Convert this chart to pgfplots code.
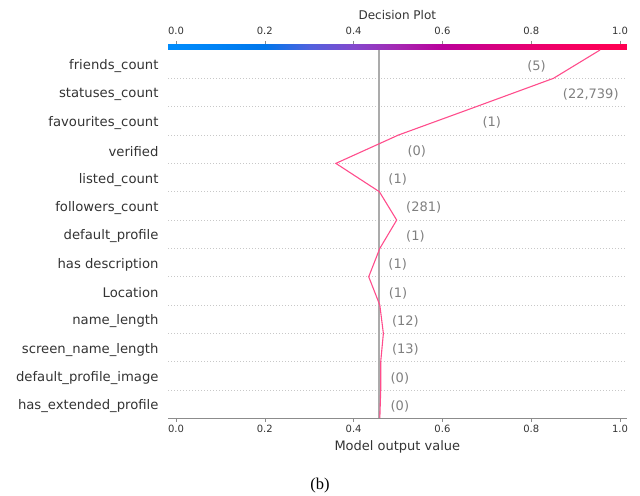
\documentclass[border=0pt]{standalone}
\usepackage{fontspec}
\setmainfont{DejaVu Sans}
\newfontfamily\captionserif{Liberation Serif}
\usepackage{pgfplots}
\usepackage{pgfplotstable}
\pgfplotsset{compat=1.18}

\definecolor{textdark}{HTML}{333333}
\definecolor{valgray}{HTML}{7F7F7F}
\definecolor{gridgray}{HTML}{C8C8C8}
\definecolor{basegray}{HTML}{ABABAB}
\definecolor{axisgray}{HTML}{8C8C8C}
\definecolor{pathpink}{HTML}{FF4D8C}

% cumulative model output at each feature boundary (row 0 = base)
\pgfplotstableread{
row out
0   0.459
1   0.461
2   0.461
3   0.467
4   0.459
5   0.434
6   0.459
7   0.497
8   0.458
9   0.360
10  0.501
11  0.676
12  0.850
13  0.955
}\decisionpath

% stops of the colour scale, drawn as a two-row strip
\pgfplotstableread{
x      y  c
-0.018 0  -0.018
0      0  0
0.1    0  0.1
0.2    0  0.2
0.3    0  0.3
0.4    0  0.4
0.5    0  0.5
0.6    0  0.6
0.7    0  0.7
0.8    0  0.8
0.9    0  0.9
1.0    0  1.0
1.015  0  1.015
-0.018 1  -0.018
0      1  0
0.1    1  0.1
0.2    1  0.2
0.3    1  0.3
0.4    1  0.4
0.5    1  0.5
0.6    1  0.6
0.7    1  0.7
0.8    1  0.8
0.9    1  0.9
1.0    1  1.0
1.015  1  1.015
}\scalestrip

\pgfplotsset{
  valtick/.style={
    xtick={0,0.2,0.4,0.6,0.8,1},
    tick align=outside,
    xtick style={axisgray, line width=0.6bp},
    xticklabel style={font=\fontsize{10bp}{12bp}\selectfont, text=textdark,
      /pgf/number format/fixed, /pgf/number format/fixed zerofill,
      /pgf/number format/precision=1},
    /pgf/number format/assume math mode=true,
  },
}

\begin{document}
\begin{tikzpicture}[x=1bp,y=1bp]
\path[use as bounding box] (0,0) rectangle (640,496);
% colour scale on top
\begin{axis}[
  at={(168bp,446bp)}, anchor=south west,
  scale only axis, width=458.7bp, height=6bp,
  xmin=-0.018, xmax=1.015, ymin=0, ymax=1,
  axis line style={draw=none},
  valtick,
  xtick pos=right, xticklabel pos=right,
  xticklabel style={yshift=2.5bp},
  major tick length=3bp,
  ytick=\empty,
  colormap={shapredblue}{
    rgb255(0)=(0,139,251) rgb255(18)=(0,139,251)
    rgb255(118)=(0,130,245)
    rgb255(218)=(0,118,235) rgb255(318)=(80,98,222)
    rgb255(418)=(132,72,205) rgb255(518)=(165,40,178)
    rgb255(618)=(186,0,155) rgb255(718)=(210,0,132)
    rgb255(818)=(232,0,112) rgb255(918)=(247,0,95)
    rgb255(1018)=(255,0,82) rgb255(1033)=(255,0,82)},
  point meta min=-0.018, point meta max=1.015,
]
\addplot[surf, shader=interp, mesh/rows=2, point meta=\thisrow{c}]
  table[x=x, y=y] {\scalestrip};
\end{axis}
% decision plot
\begin{axis}[
  at={(168bp,77.5bp)}, anchor=south west,
  scale only axis, width=458.7bp, height=368.5bp,
  xmin=-0.018, xmax=1.015, ymin=0, ymax=13,
  clip=false,
  axis line style={draw=none},
  valtick,
  xtick pos=left,
  major tick length=3.5bp,
  xlabel={Model output value},
  xlabel style={font=\fontsize{13bp}{15bp}\selectfont, text=textdark,
    at={(axis description cs:0.5,0)}, anchor=center, yshift=-28.5bp},
  ytick={0.5,1.5,...,12.5},
  yticklabels={has\_extended\_profile, default\_profile\_image,
    screen\_name\_length, name\_length, Location, has description,
    default\_profile, followers\_count, listed\_count, verified,
    favourites\_count, statuses\_count, friends\_count},
  ytick style={draw=none},
  yticklabel style={font=\fontsize{13.2bp}{15bp}\selectfont, text=textdark,
    xshift=-2.5bp, yshift=-2bp},
  extra y ticks={1,2,...,12},
  extra y tick labels={},
  extra y tick style={grid=major, ytick style={draw=none}},
  major grid style={gridgray, line width=0.8bp, dash pattern=on 1bp off 2bp},
]
% base value
\addplot[basegray, line width=1.8bp] coordinates {(0.458,0) (0.458,13)};
% decision path
\addplot[pathpink, line width=1.1bp] table[x=out, y=row] {\decisionpath};
% x axis line
\draw[axisgray, line width=1bp] (rel axis cs:0,0) -- (rel axis cs:1,0);
% feature values
\begin{scope}[every node/.style={font=\fontsize{13bp}{15bp}\selectfont,
    text=valgray, inner sep=0pt, yshift=-2bp}]
\node[anchor=east] at (axis cs:0.833,12.5) {(5)};
\node[anchor=west] at (axis cs:0.871,11.5) {(22,739)};
\node[anchor=west] at (axis cs:0.690,10.5) {(1)};
\node[anchor=west] at (axis cs:0.521,9.5) {(0)};
\node[anchor=west] at (axis cs:0.478,8.5) {(1)};
\node[anchor=west] at (axis cs:0.518,7.5) {(281)};
\node[anchor=west] at (axis cs:0.518,6.5) {(1)};
\node[anchor=west] at (axis cs:0.478,5.5) {(1)};
\node[anchor=west] at (axis cs:0.479,4.5) {(1)};
\node[anchor=west] at (axis cs:0.486,3.5) {(12)};
\node[anchor=west] at (axis cs:0.486,2.5) {(13)};
\node[anchor=west] at (axis cs:0.483,1.5) {(0)};
\node[anchor=west] at (axis cs:0.483,0.5) {(0)};
\end{scope}
\end{axis}
\node[font=\fontsize{12bp}{14bp}\selectfont, text=textdark] at (397.3,480.7) {Decision Plot};
\node[font=\captionserif\fontsize{16.5bp}{18bp}\selectfont] at (320,10.7) {(b)};
\end{tikzpicture}
\end{document}
